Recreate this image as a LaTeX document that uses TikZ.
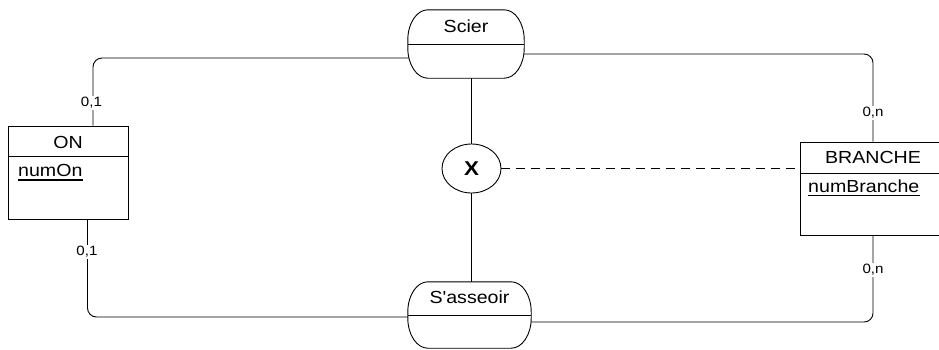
\documentclass[tikz,border=0pt]{standalone}
\usepackage{fontspec}
\setmainfont{Liberation Sans}[FakeStretch=1.12, Ligatures=TeXOff]
\usetikzlibrary{shapes.geometric,calc}
\newcommand{\assocpath}[1]{%
\draw[line width=0.9pt, fill=white]
 ([xshift=20pt]#1.north west) -- ([xshift=-20pt]#1.north east)
 .. controls ([xshift=-9pt]#1.north east) and ([yshift=-13.4pt]#1.north east) .. ([yshift=-30pt]#1.north east)
 -- ([yshift=30pt]#1.south east)
 .. controls ([yshift=13.4pt]#1.south east) and ([xshift=-9pt]#1.south east) .. ([xshift=-20pt]#1.south east)
 -- ([xshift=20pt]#1.south west)
 .. controls ([xshift=9pt]#1.south west) and ([yshift=13.4pt]#1.south west) .. ([yshift=30pt]#1.south west)
 -- ([yshift=-30pt]#1.north west)
 .. controls ([yshift=-13.4pt]#1.north west) and ([xshift=9pt]#1.north west) .. ([xshift=20pt]#1.north west) -- cycle;
\draw[line width=0.9pt] (#1.west) -- (#1.east);}
\tikzset{
  conn/.style={draw=black, line width=0.9pt, rounded corners=9pt},
  card/.style={fill=white, inner sep=1pt, font=\fontsize{13.5}{15}\selectfont},
  entbox/.style={draw, line width=0.9pt, inner sep=0pt, fill=white},
  blank/.style={inner sep=0pt, draw=none},
  ttl/.style={inner sep=0pt, font=\fontsize{17.5}{20}\selectfont},
  attr/.style={anchor=base west, inner sep=0pt, font=\fontsize{17.5}{20}\selectfont},
  uline/.style={line width=1.4pt},
}
\begin{document}
\begin{tikzpicture}[x=1pt,y=-1pt]
\useasboundingbox (0,0) rectangle (939,349);
% nodes (geometry)
\node[blank, minimum width=116pt, minimum height=68pt] (scier) at (466,44) {};
\node[blank, minimum width=123pt, minimum height=66pt] (sass) at (469.5,315) {};
\node[entbox, minimum width=120pt, minimum height=93pt] (on) at (68,172.5) {};
\node[entbox, minimum width=146pt, minimum height=93pt] (branche) at (873,188.5) {};
\node[draw, ellipse, line width=0.9pt, fill=white, minimum width=59pt, minimum height=49pt, inner sep=0pt,
      font=\bfseries\fontsize{20}{22}\selectfont] (xn) at (471.5,168.5) {X};
% connectors
\draw[conn] ([xshift=25pt]on.north) |- ($(scier.west)+(1,14)$);
\draw[conn] ($(scier.east)+(-0.5,10)$) -| (branche.north);
\draw[conn] (branche.south) |- ($(sass.east)+(-0.3,7)$);
\draw[conn] ([xshift=19.5pt]on.south) |- ($(sass.west)+(0.5,2)$);
\draw[conn] (xn.north) -- (xn.north |- scier.south);
\draw[conn] (xn.south) -- (xn.south |- sass.north);
\draw[line width=0.9pt, dash pattern=on 9pt off 6pt] (xn.east) -- (xn.east -| branche.west);
% association shapes
\assocpath{scier}
\assocpath{sass}
\node[ttl] (scierT) at (466,26.5) {Scier};
\node[ttl] (sassT) at (469.5,297.5) {S'asseoir};
% entity boxes
\draw[line width=0.9pt] ($(on.north west)+(0,31)$) -- ($(on.north east)+(0,31)$);
\draw[line width=0.9pt] ($(branche.north west)+(0,32)$) -- ($(branche.north east)+(0,32)$);
\node[ttl] (onT) at (68,142.5) {ON};
\node[ttl] (brT) at (873,157.5) {BRANCHE};
\node[attr] (onA) at (18,176.5) {numOn};
\draw[uline] ([yshift=-3.5pt]onA.base west) -- ([yshift=-3.5pt]onA.base east);
\node[attr] (brA) at (808,192) {numBranche};
\draw[uline] ([yshift=-3.5pt]brA.base west) -- ([yshift=-3.5pt]brA.base east);
% cardinalities
\node[card] (c1) at (91.5,103) {0,1};
\node[card] (c2) at (87,252) {0,1};
\node[card] (c3) at (873,113) {0,n};
\node[card] (c4) at (873,270) {0,n};
\end{tikzpicture}
\end{document}
